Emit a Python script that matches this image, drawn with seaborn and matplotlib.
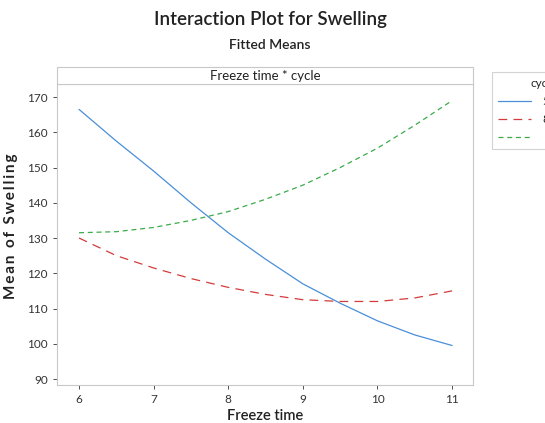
import numpy as np
import pandas as pd
import matplotlib
matplotlib.use("Agg")
import matplotlib.pyplot as plt
import seaborn as sns
from matplotlib.patches import Rectangle
from matplotlib.lines import Line2D

freeze_time = [6, 6.5, 7, 7.5, 8, 8.5, 9, 9.5, 10, 10.5, 11]
cycle_levels = ["5", "8", "11"]
swell_c5 = [166.5, 157.5, 149.0, 140.0, 131.5, 124.0, 117.0, 111.5, 106.5, 102.5, 99.5]
swell_c8 = [130.0, 125.0, 121.5, 118.5, 116.0, 114.0, 112.5, 112.0, 112.0, 113.0, 115.0]
swell_c11 = [131.5, 131.8, 133.0, 135.0, 137.5, 141.0, 145.0, 150.0, 155.5, 162.0, 169.0]
x_ticks = [6, 7, 8, 9, 10, 11]
y_ticks = [90, 100, 110, 120, 130, 140, 150, 160, 170]

rows = []
for lvl, vals in zip(cycle_levels, [swell_c5, swell_c8, swell_c11]):
    for x, v in zip(freeze_time, vals):
        rows.append({"Freeze time": x, "Swelling": v, "cycle": lvl})
df = pd.DataFrame(rows)

sns.set_style("white")
plt.rcParams["font.family"] = ["Lato", "DejaVu Sans"]

W, H = 545, 423
fig = plt.figure(figsize=(W / 100, H / 100), dpi=100)
ax = fig.add_axes([57 / W, 1 - 385 / H, (473 - 57) / W, (385 - 84) / H])

palette = {"5": "#4a8fd8", "8": "#d43b3b", "11": "#3cab4a"}
dashes = {"5": "", "8": (7, 5), "11": (4, 3)}
sns.lineplot(data=df, x="Freeze time", y="Swelling", hue="cycle", style="cycle",
             palette=palette, dashes=dashes, hue_order=cycle_levels,
             style_order=cycle_levels, linewidth=0.9, ax=ax, legend=False)

ax.set_xlim(5.705, 11.28)
ax.set_ylim(88.3, 173.7)
ax.set_xticks(x_ticks)
ax.set_yticks(y_ticks)
ax.tick_params(axis="both", labelsize=8.5, colors="#333333", length=3, width=0.6,
               direction="out", bottom=True, left=True)
for t in ax.get_xticklines() + ax.get_yticklines():
    t.set_color("#aaaaaa")
for s in ax.spines.values():
    s.set_color("#c8c8c8")
    s.set_linewidth(0.8)
ax.set_xlabel("Freeze time", fontsize=10.5, color="#222222", labelpad=3, fontweight="semibold")
sp = "\u2009"
ax.set_ylabel(sp.join("Mean") + "  " + sp.join("of") + "  " + sp.join("Swelling"),
              fontsize=11, color="#222222", fontweight="bold")
ax.yaxis.set_label_coords(18 / W, (1 - 226 / H), transform=fig.transFigure)

# strip header
strip = Rectangle((57 / W, 1 - 84 / H), (473 - 57) / W, 17 / H, transform=fig.transFigure,
                  facecolor="white", edgecolor="#c8c8c8", linewidth=0.8)
fig.patches.append(strip)
fig.text(265 / W, 1 - 75.5 / H, "Freeze time * cycle", ha="center", va="center",
         fontsize=9.5, color="#222222")

fig.text(270 / W, 1 - 20 / H, "Interaction Plot for Swelling", ha="center", va="center",
         fontsize=13.5, color="#222222", fontweight="semibold")
fig.text(270 / W, 1 - 45 / H, "Fitted Means", ha="center", va="center",
         fontsize=10, color="#222222", fontweight="semibold")

# legend (partially cut off at figure edge, as in the reference)
handles = [Line2D([0], [0], color=palette[l], lw=0.9,
                  linestyle="-" if dashes[l] == "" else (0, dashes[l])) for l in cycle_levels]
leg = fig.legend(handles, cycle_levels, title="cycle", loc="upper left",
                 bbox_to_anchor=(486 / W, 1 - 66 / H), fontsize=8.5, title_fontsize=8.5,
                 frameon=True, fancybox=False, edgecolor="#c8c8c8", handlelength=2.8,
                 borderpad=0.5, labelspacing=0.6, handletextpad=1.0)
leg.get_frame().set_linewidth(0.8)
leg._legend_box.align = "right"

fig.savefig("out.png", dpi=100)
